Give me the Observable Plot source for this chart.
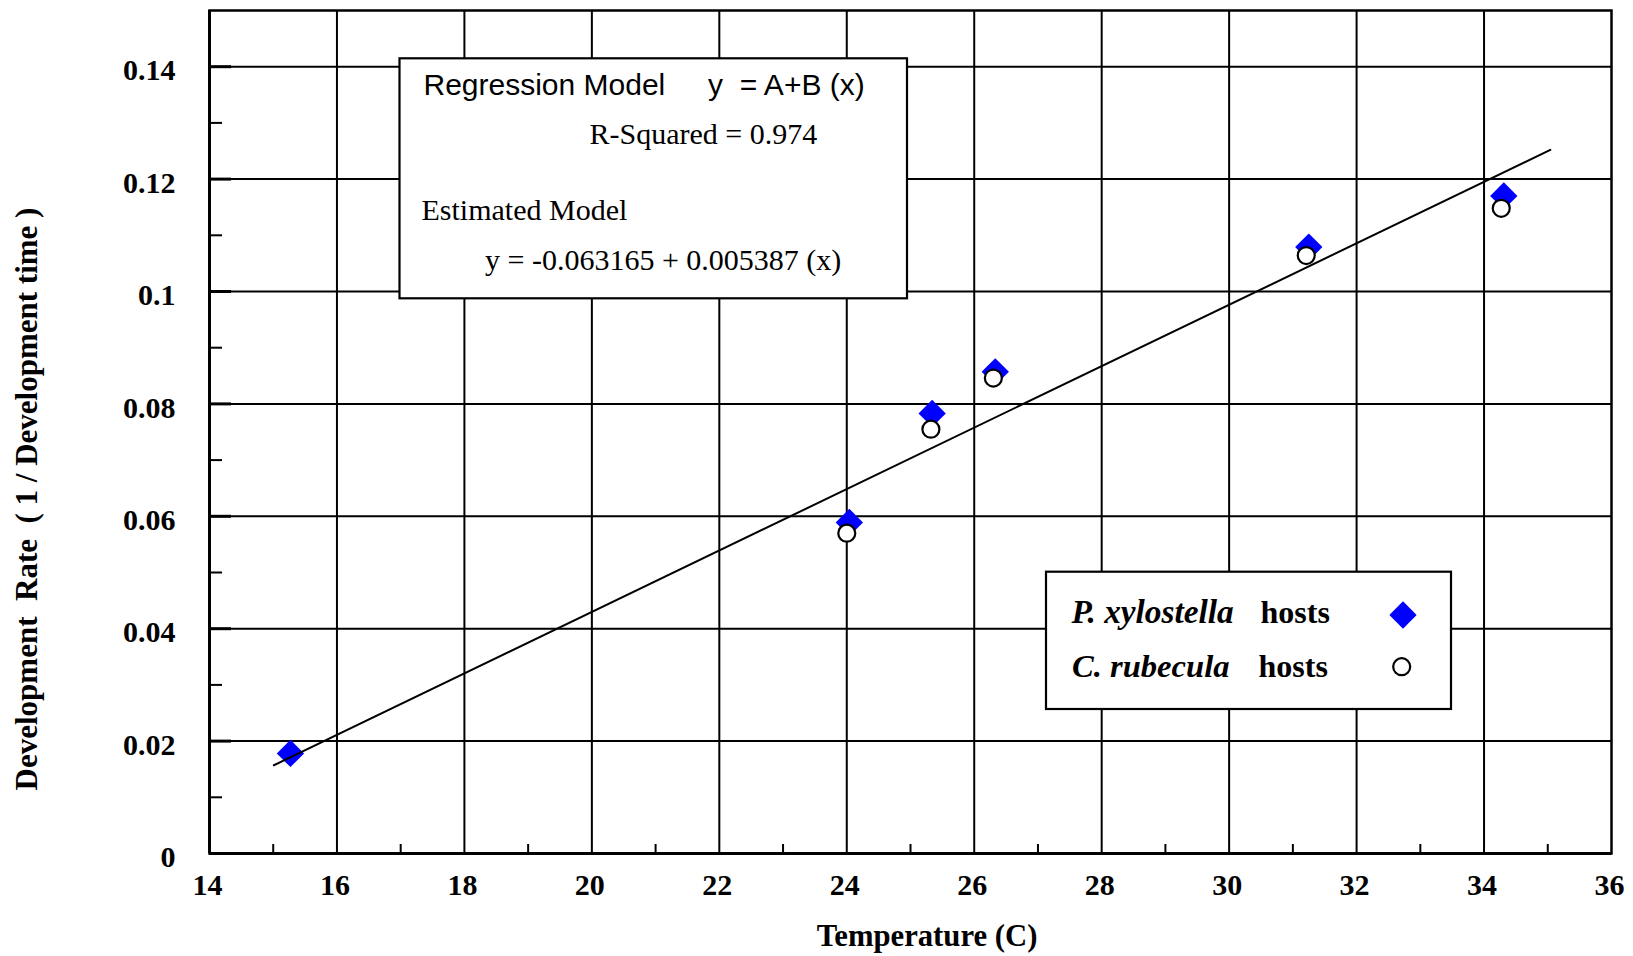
<!DOCTYPE html>
<html>
<head>
<meta charset="utf-8">
<script src="https://cdn.jsdelivr.net/npm/d3@7"></script>
<script src="https://cdn.jsdelivr.net/npm/@observablehq/plot@0.6"></script>
<style>
  html, body { margin: 0; padding: 0; background: white; }
</style>
</head>
<body>
<div id="chart"></div>
<script>
// ---- data ----
const pTemp = [15.27, 24.04, 25.34, 26.33, 31.25, 34.31];          // P. xylostella hosts
const pRate = [0.0178, 0.0589, 0.0783, 0.0857, 0.1079, 0.1170];
const cTemp = [24.0, 25.32, 26.30, 31.21, 34.27];                   // C. rubecula hosts
const cRate = [0.0570, 0.0755, 0.0846, 0.1064, 0.1148];
const fitTemp = [15.01, 35.04];                                     // drawn regression line ends
const fitRate = [0.0157, 0.1252];

const xTicks = [14, 16, 18, 20, 22, 24, 26, 28, 30, 32, 34, 36];
const xTickLabels = ["14", "16", "18", "20", "22", "24", "26", "28", "30", "32", "34", "36"];
const xMinor = [15, 17, 19, 21, 23, 25, 27, 29, 31, 33, 35];
const yTicks = [0, 0.02, 0.04, 0.06, 0.08, 0.1, 0.12, 0.14];
const yTickLabels = ["0", "0.02", "0.04", "0.06", "0.08", "0.1", "0.12", "0.14"];
const yMinor = [0.01, 0.03, 0.05, 0.07, 0.09, 0.11, 0.13];

const seriesNames = ["P. xylostella", "C. rubecula"];
const xTitle = "Temperature (C)";
const yTitle = "Development  Rate  ( 1 / Development time )";
const boxLines = ["Regression Model", "y  = A+B (x)", "R-Squared = 0.974", "Estimated Model", "y = -0.063165 + 0.005387 (x)"];

const pData = pTemp.map((t, i) => ({t, r: pRate[i]}));
const cData = cTemp.map((t, i) => ({t, r: cRate[i]}));
const fitData = fitTemp.map((t, i) => ({t, r: fitRate[i]}));

const serif = "'Liberation Serif', 'Times New Roman', serif";
const sans = "'Liberation Sans', Arial, sans-serif";

const plot = Plot.plot({
  width: 1633,
  height: 956,
  marginLeft: 209,
  marginRight: 22,
  marginTop: 10,
  marginBottom: 103,
  style: {fontFamily: serif, fontSize: "30px", fontWeight: "bold", color: "black", background: "white"},
  x: {domain: [14, 36]},
  y: {domain: [0, 0.15]},
  marks: [
    Plot.gridX(xTicks.slice(1, -1), {stroke: "black", strokeOpacity: 1, strokeWidth: 2}),
    Plot.gridY(yTicks.slice(1), {stroke: "black", strokeOpacity: 1, strokeWidth: 2}),
    Plot.frame({stroke: "black", strokeWidth: 2.5}),
    Plot.ruleX([14], {stroke: "black", strokeWidth: 3}),
    Plot.ruleY([0], {stroke: "black", strokeWidth: 3}),
    // minor ticks pointing inward
    Plot.axisY(yMinor, {tickSize: 13, dx: 13, fill: "none", label: null, strokeWidth: 2}),
    Plot.axisX(xMinor, {tickSize: 9, dy: -9, fill: "none", label: null, strokeWidth: 2}),
    // heavier major tick stubs on left axis
    Plot.axisY(yTicks.slice(1), {tickSize: 22, dx: 22, fill: "none", label: null, strokeWidth: 3}),
    // tick labels
    Plot.axisY(yTicks, {tickSize: 0, tickPadding: 34, dy: 4, label: null, fill: "black",
      tickFormat: d => yTickLabels[yTicks.indexOf(d)]}),
    Plot.axisX(xTicks, {tickSize: 0, tickPadding: 20, dx: -2, label: null, fill: "black",
      tickFormat: d => xTickLabels[xTicks.indexOf(d)]}),
    // data
    Plot.dot(pData, {x: "t", y: "r", symbol: "diamond2", r: 12.3, fill: "#0000ff"}),
    Plot.dot(cData, {x: "t", y: "r", r: 8.5, fill: "white", stroke: "black", strokeWidth: 2.2}),
    Plot.line(fitData, {x: "t", y: "r", stroke: "black", strokeWidth: 2})
  ]
});

document.getElementById("chart").appendChild(plot);

const svg = d3.select(plot);
const g = svg.append("g");

// axis titles
g.append("text").attr("x", 927).attr("y", 946)
  .attr("text-anchor", "middle").attr("font-family", serif).attr("font-weight", "bold")
  .attr("font-size", 30.7).attr("fill", "black").text(xTitle);
g.append("text").attr("transform", "translate(37,499) rotate(-90)")
  .attr("text-anchor", "middle").attr("font-family", serif).attr("font-weight", "bold")
  .attr("font-size", 31).attr("fill", "black").style("white-space", "pre").text(yTitle);

// regression text box
g.append("rect").attr("x", 399.5).attr("y", 58.3).attr("width", 507.5).attr("height", 240)
  .attr("fill", "white").attr("stroke", "black").attr("stroke-width", 2.2);
const boxPos = [
  [423.5, 95, sans], [708, 95, sans], [589.5, 143.5, serif], [421.5, 220, serif], [485, 270, serif]
];
boxLines.forEach((s, i) => {
  g.append("text").attr("x", boxPos[i][0]).attr("y", boxPos[i][1])
    .attr("font-family", boxPos[i][2]).attr("font-weight", "normal").attr("font-size", 30)
    .attr("text-anchor", "start").attr("fill", "black").style("white-space", "pre").text(s);
});

// legend
g.append("rect").attr("x", 1046).attr("y", 571.7).attr("width", 405).attr("height", 137.3)
  .attr("fill", "white").attr("stroke", "black").attr("stroke-width", 2.2);
const legRows = [
  {name: seriesNames[0], nameX: 1071.5, hostsX: 1260.5, base: 622.7, mx: 1403, my: 615, type: "diamond", fs: 33.3},
  {name: seriesNames[1], nameX: 1072, hostsX: 1258.5, base: 676.7, mx: 1401.7, my: 666.7, type: "circle", fs: 32.6}
];
legRows.forEach(row => {
  g.append("text").attr("x", row.nameX).attr("y", row.base)
    .attr("font-family", serif).attr("font-weight", "bold").attr("font-style", "italic")
    .attr("font-size", row.fs).attr("text-anchor", "start").attr("fill", "black").text(row.name);
  g.append("text").attr("x", row.hostsX).attr("y", row.base)
    .attr("font-family", serif).attr("font-weight", "bold")
    .attr("font-size", 32).attr("text-anchor", "start").attr("fill", "black").text("hosts");
  if (row.type === "diamond") {
    g.append("path").attr("transform", `translate(${row.mx},${row.my})`)
      .attr("d", d3.symbol(d3.symbolDiamond2, Math.PI * 12.3 * 12.3)()).attr("fill", "#0000ff");
  } else {
    g.append("circle").attr("cx", row.mx).attr("cy", row.my).attr("r", 8.5)
      .attr("fill", "white").attr("stroke", "black").attr("stroke-width", 2.2);
  }
});
</script>
</body>
</html>
